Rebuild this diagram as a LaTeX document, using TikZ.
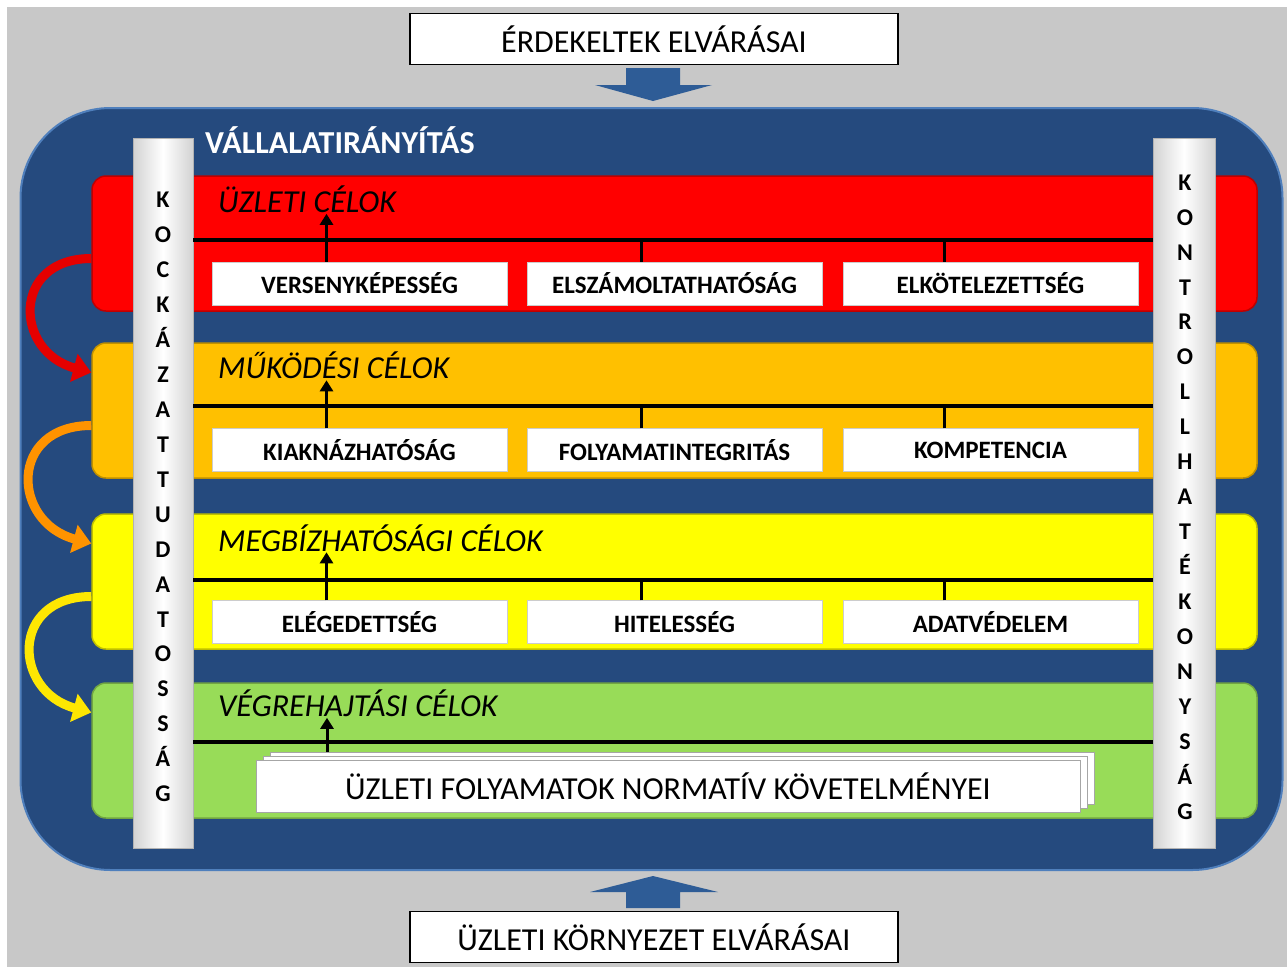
\documentclass[tikz,border=0pt]{standalone}
\usepackage{fontspec}
\setmainfont{Carlito}
\usepackage{xcolor}
\usetikzlibrary{arrows.meta}
\definecolor{corpblue}{HTML}{254A7E}
\definecolor{corpedge}{HTML}{4F7FBC}
\definecolor{bgray}{HTML}{C8C8C8}
\definecolor{bandred}{HTML}{FF0000}
\definecolor{bandorange}{HTML}{FFC000}
\definecolor{bandyellow}{HTML}{FFFF00}
\definecolor{bandgreen}{HTML}{98DC58}
\definecolor{arrowblue}{HTML}{2E5C96}

\begin{document}
\begin{tikzpicture}[x=1pt,y=-1pt,
		band/.style={draw=#1!75!black, line width=1.5pt, fill=#1, rounded corners=14pt,
			minimum width=1165pt, minimum height=135pt, inner sep=0pt},
		bar/.style={draw=gray!60, left color=gray!35, right color=gray!35, middle color=white,
			minimum width=60pt, minimum height=710pt, inner sep=0pt},
		goal/.style={draw=gray!40, fill=white, minimum width=295pt, minimum height=43pt,
			inner sep=0pt, font=\bfseries\fontsize{25}{28}\selectfont},
		expect/.style={draw=black, line width=1.2pt, fill=white, minimum width=488pt,
			minimum height=51pt, inner sep=0pt, font=\fontsize{32}{36}\selectfont},
		bandtitle/.style={anchor=west, inner sep=0pt, font=\itshape\fontsize{32}{36}\selectfont},
		bartext/.style={inner sep=0pt, align=center, font=\bfseries\fontsize{24}{34.95}\selectfont},
		hline/.style={line width=3.5pt},
		uparrow/.style={line width=3pt, -{Triangle[length=11pt,width=13pt]}},
		riskarrow/.style={line width=9pt, line cap=butt, -{Triangle[length=18pt,width=28pt]}}]
		\useasboundingbox (0,0) rectangle (1287,967);
		\fill [white] (0,0) rectangle (1287,967);
		\fill [bgray] (7,7) rectangle (1287,967);
		% frame
		\node [draw=corpedge, line width=2pt, fill=corpblue, rounded corners=90pt,
			minimum width=1262pt, minimum height=762pt, inner sep=0pt] (corp) at (651.5,489) {};
		\node [anchor=west, inner sep=0pt, text=white, font=\bfseries\fontsize{32}{36}\selectfont]
			(corptitle) at (205,140) {VÁLLALATIRÁNYÍTÁS};
		% expectations
		\node [expect] (stake) at (654,39) {ÉRDEKELTEK ELVÁRÁSAI};
		\node [expect] (env) at (654,937) {ÜZLETI KÖRNYEZET ELVÁRÁSAI};
		\fill [arrowblue] (626,68) -- (680,68) -- (680,85) -- (712,85) -- (653,101)
			-- (595,85) -- (626,85) -- cycle;
		\fill [arrowblue] (626,908) -- (680,908) -- (680,892) -- (718,892) -- (653,876)
			-- (590,892) -- (626,892) -- cycle;
		% bands
		\node [band=bandred] (rband) at (674.5,243.5) {};
		\node [band=bandorange] (oband) at (674.5,410.5) {};
		\node [band=bandyellow] (yband) at (674.5,581.5) {};
		\node [band=bandgreen] (gband) at (674.5,750.5) {};
		\draw [riskarrow, red!90!black] ([yshift=-15pt]rband.west)
			to [out=180, in=165, looseness=1.8] ([yshift=38pt]oband.west);
		\draw [riskarrow, orange!85!yellow] ([yshift=-15pt]oband.west)
			to [out=180, in=165, looseness=1.8] ([yshift=38pt]yband.west);
		\draw [riskarrow, yellow!90!orange] ([yshift=-15pt]yband.west)
			to [out=180, in=165, looseness=1.8] ([yshift=38pt]gband.west);
		% side bars
		\node [bar] (lbar) at (163,493) {};
		\node [bar, minimum width=62pt] (rbar) at (1184,493) {};
		\node [bartext] (risk) at (163,497) {K\\O\\C\\K\\Á\\Z\\A\\T\\T\\U\\D\\A\\T\\O\\S\\S\\Á\\G};
		\node [bartext] (ctrl) at (1185,497) {K\\O\\N\\T\\R\\O\\L\\L\\H\\A\\T\\É\\K\\O\\N\\Y\\S\\Á\\G};
		% business goals
		\node [bandtitle] (t1) at (218,199) {ÜZLETI CÉLOK};
		\draw [hline] (lbar.east |- 0,240) -- (rbar.west |- 0,240);
		\node [goal] (b11) at (359.5,283.5) {VERSENYKÉPESSÉG};
		\node [goal] (b12) at (674.5,283.5) {ELSZÁMOLTATHATÓSÁG};
		\node [goal] (b13) at (990.5,283.5) {ELKÖTELEZETTSÉG};
		\draw [uparrow] ([xshift=-33pt]b11.north) -- ++(0,-48);
		\draw [hline] ([xshift=-33pt]b12.north) -- ++(0,-22);
		\draw [hline] ([xshift=-46pt]b13.north) -- ++(0,-22);
		% operational goals
		\node [bandtitle] (t2) at (218,365) {MŰKÖDÉSI CÉLOK};
		\draw [hline] (lbar.east |- 0,406) -- (rbar.west |- 0,406);
		\node [goal] (b21) at (359.5,450) {KIAKNÁZHATÓSÁG};
		\node [goal] (b22) at (674.5,450) {FOLYAMATINTEGRITÁS};
		\node [goal] (b23) at (990.5,450) {KOMPETENCIA};
		\draw [uparrow] ([xshift=-33pt]b21.north) -- ++(0,-48);
		\draw [hline] ([xshift=-33pt]b22.north) -- ++(0,-22);
		\draw [hline] ([xshift=-46pt]b23.north) -- ++(0,-22);
		% reliability goals
		\node [bandtitle] (t3) at (218,538) {MEGBÍZHATÓSÁGI CÉLOK};
		\draw [hline] (lbar.east |- 0,580) -- (rbar.west |- 0,580);
		\node [goal] (b31) at (359.5,622) {ELÉGEDETTSÉG};
		\node [goal] (b32) at (674.5,622) {HITELESSÉG};
		\node [goal] (b33) at (990.5,622) {ADATVÉDELEM};
		\draw [uparrow] ([xshift=-33pt]b31.north) -- ++(0,-48);
		\draw [hline] ([xshift=-33pt]b32.north) -- ++(0,-22);
		\draw [hline] ([xshift=-46pt]b33.north) -- ++(0,-22);
		% execution goals
		\node [bandtitle] (t4) at (218,703) {VÉGREHAJTÁSI CÉLOK};
		\draw [hline] (lbar.east |- 0,742) -- (rbar.west |- 0,742);
		\node [goal, draw=gray!70, minimum width=824pt, minimum height=52pt] (norm3) at (682,778) {};
		\node [goal, draw=gray!70, minimum width=824pt, minimum height=52pt] (norm2) at (675,782) {};
		\node [goal, draw=gray!70, minimum width=824pt, minimum height=52pt,
			font=\fontsize{32}{36}\selectfont] (norm) at (668,786) {ÜZLETI FOLYAMATOK NORMATÍV KÖVETELMÉNYEI};
		\draw [uparrow] (norm3.north -| 327,0) -- ++(0,-34);
	\end{tikzpicture}
\end{document}
